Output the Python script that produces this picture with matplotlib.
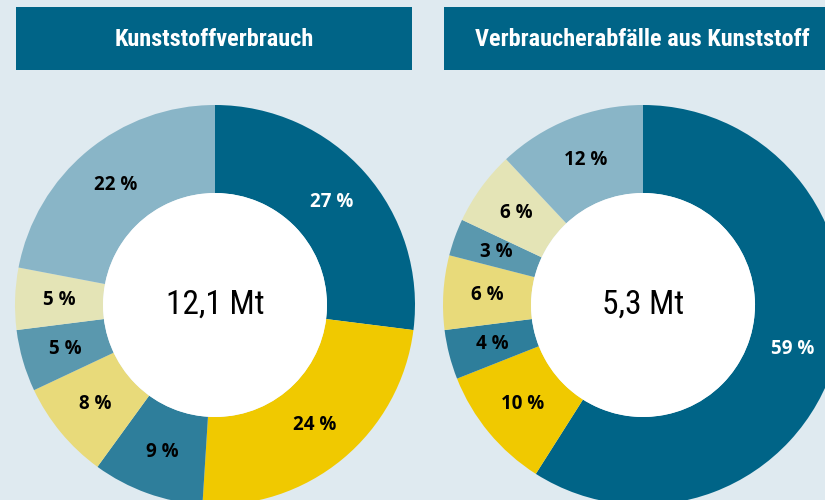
import math
import matplotlib.pyplot as plt
from matplotlib.patches import Rectangle, Circle

# data
titles = ["Kunststoffverbrauch", "Verbraucherabfälle aus Kunststoff"]
totals = ["12,1 Mt", "5,3 Mt"]
verbrauch = [27, 24, 9, 8, 5, 5, 22]
abfaelle = [59, 10, 4, 6, 3, 6, 12]

colors = ["#006487", "#f0c900", "#2e7e9b", "#e8da7a", "#5a98ae", "#e4e4b6", "#89b5c7"]
label_colors = ["white", "black", "black", "black", "black", "black", "black"]

bg = "#dfeaf0"
narrow = ["Roboto Condensed", "Liberation Sans Narrow", "DejaVu Sans"]

fig = plt.figure(figsize=(8.25, 5), dpi=100, facecolor=bg)
ax = fig.add_axes([0, 0, 1, 1])

centers = [(215, 195), (643, 195)]
boxes = [(16, 396), (444, 396)]
R = 200
r_in = 112

for k, vals in enumerate([verbrauch, abfaelle]):
    cx, cy = centers[k]
    wedges, _ = ax.pie(vals, colors=colors, startangle=90, counterclock=False,
                       center=(cx, cy), radius=R, frame=True,
                       wedgeprops=dict(width=R - r_in, linewidth=0))
    # white hole in the middle
    ax.add_patch(Circle((cx, cy), r_in, facecolor="white", edgecolor="none"))
    mid = (R + r_in) / 2
    for w, v, c in zip(wedges, vals, label_colors):
        a = math.radians((w.theta1 + w.theta2) / 2)
        ax.text(cx + mid * math.cos(a), cy + mid * math.sin(a), f"{v} %",
                ha="center", va="center", fontsize=13.5, fontweight="bold",
                color=c, family=["Open Sans", "DejaVu Sans"])
    ax.text(cx, cy, totals[k], ha="center", va="center", fontsize=24,
            color="black", family=narrow)

    x0, w = boxes[k]
    ax.add_patch(Rectangle((x0, 430), w, 63, facecolor="#006487", edgecolor="none"))
    ax.text(x0 + w / 2, 461, titles[k], ha="center", va="center", fontsize=17.5,
            fontweight="bold", color="white", family=narrow)

ax.set_xlim(0, 825)
ax.set_ylim(0, 500)
ax.set_aspect("equal")
ax.axis("off")

fig.savefig("out.png", dpi=100, facecolor=bg)
